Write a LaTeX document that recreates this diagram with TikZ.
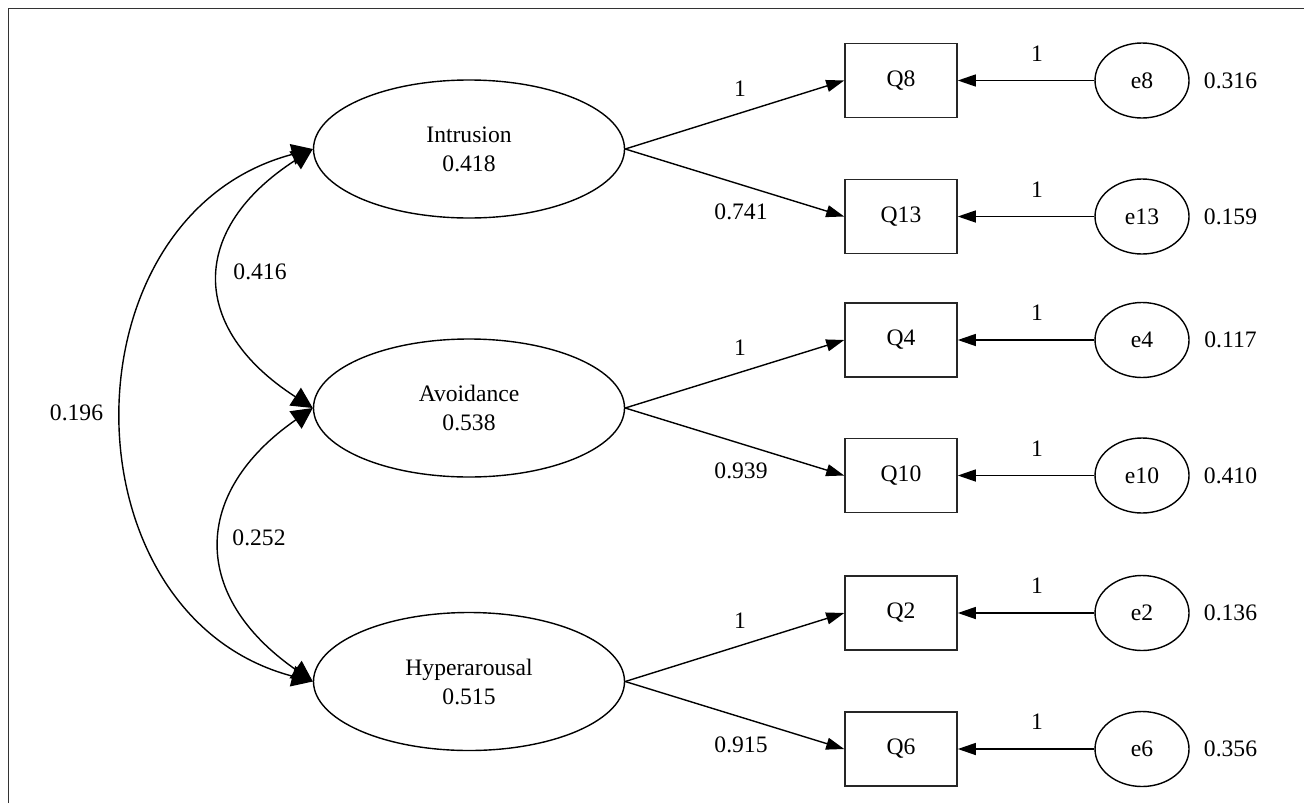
\documentclass[tikz,border=0pt]{standalone}
\usepackage{fontspec}
\setmainfont{Liberation Serif}
\usepackage{tikz}
\usetikzlibrary{arrows.meta,shapes.geometric}

\begin{document}
\begin{tikzpicture}[x=0.5pt,y=-0.5pt,
  every node/.style={font=\fontsize{11.8}{14.5}\selectfont},
  latent/.style={draw,ellipse,line width=0.7pt,minimum width=155.5pt,
    minimum height=69pt,inner sep=0pt,align=center},
  item/.style={draw=black!85,line width=0.8pt,minimum width=56pt,
    minimum height=37pt,inner sep=0pt},
  resid/.style={draw,ellipse,line width=0.7pt,minimum width=47pt,
    minimum height=37.5pt,inner sep=0pt},
  lbl/.style={inner sep=0pt},
  arr/.style={-{Triangle[length=9pt,width=6pt]},line width=0.7pt},
  cov/.style={{Triangle[length=10.5pt,width=10.5pt]}-{Triangle[length=10.5pt,width=10.5pt]},
    line width=0.7pt}]
\useasboundingbox (0,0) rectangle (1304,803);
\draw[line width=0.8pt,black!80] (8.5,803) -- (8.5,8.5) -- (1304,8.5);
% factors
\node[latent] (intr) at (469,149) {Intrusion\\0.418};
\node[latent] (avoid) at (469,408) {Avoidance\\0.538};
\node[latent] (hyper) at (469,681.5) {Hyperarousal\\0.515};
% indicators
\node[item] (q8) at (901,80.5) {Q8};
\node[item] (q13) at (901,216.5) {Q13};
\node[item] (q4) at (901,340) {Q4};
\node[item] (q10) at (901,475.5) {Q10};
\node[item] (q2) at (901,613) {Q2};
\node[item] (q6) at (901,749) {Q6};
% residuals
\node[resid] (e8) at (1142,80.5) {e8};
\node[resid] (e13) at (1142,216.5) {e13};
\node[resid] (e4) at (1142,340) {e4};
\node[resid] (e10) at (1142,475.5) {e10};
\node[resid] (e2) at (1142,613) {e2};
\node[resid] (e6) at (1142,749) {e6};
\node[lbl] (v8) at (1230.5,80.5) {0.316};
\node[lbl] (v13) at (1230.5,216.5) {0.159};
\node[lbl] (v4) at (1230.5,340) {0.117};
\node[lbl] (v10) at (1230.5,475.5) {0.410};
\node[lbl] (v2) at (1230.5,613) {0.136};
\node[lbl] (v6) at (1230.5,749) {0.356};
% loadings
\draw[arr] (intr.east) -- (q8.west);
\draw[arr] (intr.east) -- (q13.west);
\draw[arr] (avoid.east) -- (q4.west);
\draw[arr] (avoid.east) -- (q10.west);
\draw[arr] (hyper.east) -- (q2.west);
\draw[arr] (hyper.east) -- (q6.west);
\node[lbl] (l8) at (740,88.5) {1};
\node[lbl] (l13) at (741,212) {0.741};
\node[lbl] (l4) at (740,348) {1};
\node[lbl] (l10) at (741,471) {0.939};
\node[lbl] (l2) at (740,621) {1};
\node[lbl] (l6) at (741,744.5) {0.915};
% residual paths
\draw[arr] (e8) -- (q8);
\draw[arr] (e13) -- (q13);
\draw[arr] (e4) -- (q4);
\draw[arr] (e10) -- (q10);
\draw[arr] (e2) -- (q2);
\draw[arr] (e6) -- (q6);
\node[lbl] (r8) at (1037,53.5) {1};
\node[lbl] (r13) at (1037,189.5) {1};
\node[lbl] (r4) at (1037,313) {1};
\node[lbl] (r10) at (1037,448.5) {1};
\node[lbl] (r2) at (1037,586) {1};
\node[lbl] (r6) at (1037,722) {1};
% covariances
\draw[cov] (intr.west) .. controls +(-124,80) and +(-124,-80) .. (avoid.west);
\draw[cov] (avoid.west) .. controls +(-122,85) and +(-122,-85) .. (hyper.west);
\draw[cov] (intr.west) .. controls +(-252,66) and +(-252,-66) .. (hyper.west);
\node[lbl] (c1) at (260,272) {0.416};
\node[lbl] (c2) at (259,538) {0.252};
\node[lbl] (c3) at (76.5,413) {0.196};
\end{tikzpicture}
\end{document}
